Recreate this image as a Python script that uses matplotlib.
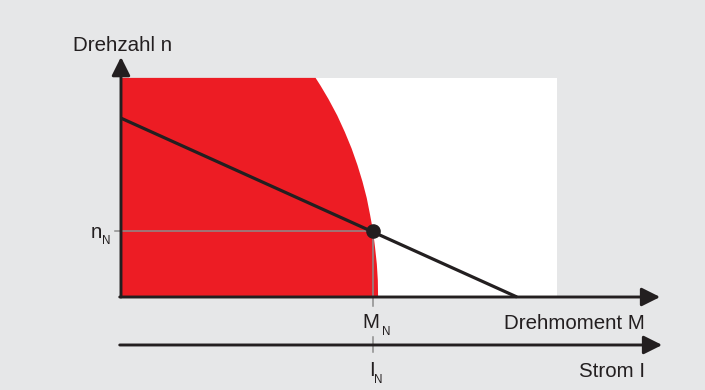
import matplotlib
matplotlib.use("Agg")
import matplotlib.pyplot as plt

# ---- data (normalised units: nominal point = 1) ----
M_nom = 1.0            # Nennmoment M_N
n_nom = 1.0            # Nenndrehzahl n_N
line_M = [0.0, 1.571]  # speed-torque characteristic
line_n = [2.71, 0.0]
area_M_max = 1.73      # white operating area
area_n_max = 3.32
# red limit curve, top to bottom
curve_n = [3.32, 3.2, 3.0, 2.75, 2.5, 2.25, 2.0, 1.75, 1.5, 1.25, 1.0, 0.75, 0.5, 0.25, 0.0]
curve_M = [0.772, 0.792, 0.823, 0.858, 0.888, 0.915, 0.938, 0.958, 0.975, 0.988, 1.0, 1.008, 1.015, 1.019, 1.02]

labels = dict(y="Drehzahl n", x="Drehmoment M", x2="Strom I")

BG = "#e6e7e8"
RED = "#ed1c24"
INK = "#231f20"
GRAY = "#8c8c8c"

plt.rcParams["font.family"] = ["Liberation Sans", "DejaVu Sans"]

fig = plt.figure(figsize=(7.05, 3.9), dpi=100, facecolor=BG)
ax = fig.add_axes([0, 0, 1, 1])
ax.set_facecolor(BG)
ax.set_xlim(-0.480, 2.317)
ax.set_ylim(-1.409, 4.5)
ax.axis("off")

# white area
ax.fill([0, area_M_max, area_M_max, 0], [0, 0, area_n_max, area_n_max], color="white", zorder=1, lw=0)
# red area
ax.fill([0] + curve_M + [0], [area_n_max] + curve_n + [0], color=RED, zorder=2, lw=0)

# gray guide lines
ax.plot([-0.024, M_nom], [n_nom, n_nom], color=GRAY, lw=1.1, zorder=3)
ax.plot([M_nom, M_nom], [n_nom, -0.14], color=GRAY, lw=1.1, zorder=3)
ax.plot([M_nom, M_nom], [-0.606, -0.836], color=GRAY, lw=1.1, zorder=3)

# characteristic line
ax.plot(line_M, line_n, color=INK, lw=2.3, zorder=4, solid_capstyle="butt")
ax.plot([M_nom], [n_nom], "o", color=INK, ms=9.5, zorder=5)

# axes arrows
ap = dict(arrowstyle="-|>,head_length=0.56,head_width=0.28", lw=2.1, color=INK,
          shrinkA=0, shrinkB=0, mutation_scale=20)
ax.annotate("", xy=(0, 3.636), xytext=(0, 0), arrowprops=ap, zorder=6)
ax.annotate("", xy=(2.139, 0), xytext=(-0.005, 0), arrowprops=ap, zorder=6)
ax.annotate("", xy=(2.147, -0.727), xytext=(-0.005, -0.727), arrowprops=ap, zorder=6)

fs = 14.8
fss = 8.4
ax.text(-0.19, 3.727, labels["y"], fontsize=fs, color=INK, ha="left", va="baseline")
ax.text(-0.119, 0.898, "n", fontsize=fs, color=INK, ha="left", va="baseline")
ax.text(-0.075, 0.808, "N", fontsize=fss, color=INK, ha="left", va="baseline")
ax.text(0.958, -0.474, "M", fontsize=fs, color=INK, ha="left", va="baseline")
ax.text(1.034, -0.576, "N", fontsize=fss, color=INK, ha="left", va="baseline")
ax.text(0.984, -1.197, "I", fontsize=fs, color=INK, ha="left", va="baseline")
ax.text(1.004, -1.308, "N", fontsize=fss, color=INK, ha="left", va="baseline")
ax.text(2.079, -0.485, labels["x"], fontsize=fs, color=INK, ha="right", va="baseline")
ax.text(2.079, -1.212, labels["x2"], fontsize=fs, color=INK, ha="right", va="baseline")

fig.savefig("out.png", dpi=100, facecolor=BG)
